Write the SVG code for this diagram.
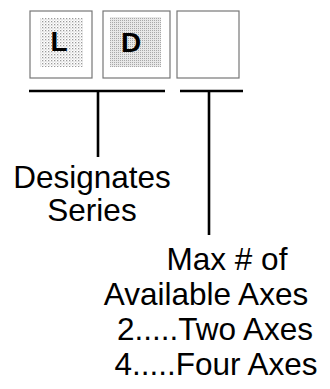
<svg xmlns="http://www.w3.org/2000/svg" width="330" height="389" viewBox="0 0 330 389">
<style>
.box{fill:#fff;stroke:#777;stroke-width:1.2}
.letter{font-family:"Liberation Sans",Arial,sans-serif;font-weight:bold;font-size:28px;fill:#000;text-anchor:middle}
.lbl{font-family:"Liberation Sans",Arial,sans-serif;font-size:31.5px;fill:#000;text-anchor:middle}
.ln{stroke:#000;stroke-width:2.6;fill:none}
</style>
<defs>
<pattern id="dots" width="3" height="3" patternUnits="userSpaceOnUse">
<rect width="3" height="3" fill="#fff"/>
<rect width="1.3" height="1.3" fill="#888"/>
<rect x="1.5" y="1.5" width="1" height="1" fill="#aaa"/>
</pattern>
<pattern id="dots2" width="2" height="2" patternUnits="userSpaceOnUse">
<rect width="2" height="2" fill="#e4e4e4"/>
<rect width="1" height="1" fill="#999"/>
</pattern>
</defs>
<g id="box-L">
<rect class="box" x="30" y="11" width="62" height="67"/>
<rect x="40" y="18" width="43" height="49" fill="url(#dots)" opacity="0.85"/>
<text class="letter" x="59" y="51">L</text>
</g>
<g id="box-D">
<rect class="box" x="103" y="11" width="67" height="67"/>
<rect x="110" y="17" width="51" height="50" fill="url(#dots2)" opacity="0.85"/>
<text class="letter" x="131" y="52">D</text>
</g>
<g id="box-axes">
<rect class="box" x="177" y="11" width="62" height="67"/>
</g>
<g id="connectors">
<line class="ln" x1="29" y1="91" x2="165" y2="91"/>
<line class="ln" x1="98" y1="91" x2="98" y2="157"/>
<line class="ln" x1="180" y1="91" x2="243" y2="91"/>
<line class="ln" x1="209" y1="91" x2="209" y2="235"/>
</g>
<g id="label-series">
<text class="lbl" x="92" y="188">Designates</text>
<text class="lbl" x="92" y="221">Series</text>
</g>
<g id="label-axes">
<text class="lbl" x="227" y="270">Max # of</text>
<text class="lbl" x="206" y="305">Available Axes</text>
<text class="lbl" x="215" y="340">2.....Two Axes</text>
<text class="lbl" x="216" y="375">4.....Four Axes</text>
</g>
</svg>
